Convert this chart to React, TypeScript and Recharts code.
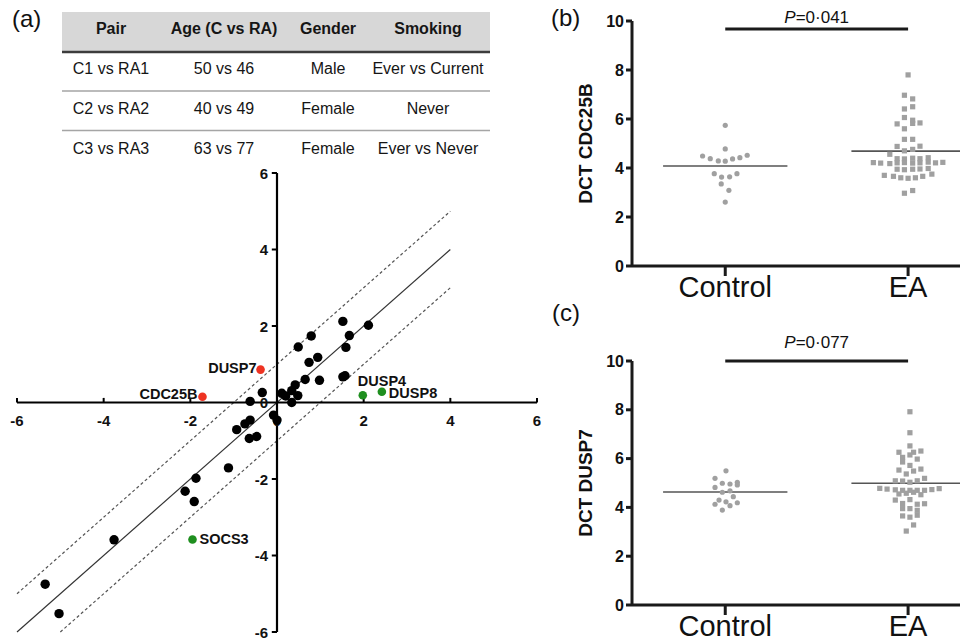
import { ScatterChart, Scatter, XAxis, YAxis, ReferenceLine, Label } from "recharts";

const FONT = '"Liberation Sans", Arial, Helvetica, sans-serif';

// (a) patient table
const tableHeader = ["Pair", "Age (C vs RA)", "Gender", "Smoking"];
const tablePairs = ["C1 vs RA1", "C2 vs RA2", "C3 vs RA3"];
const tableAges = ["50 vs 46", "40 vs 49", "63 vs 77"];
const tableGender = ["Male", "Female", "Female"];
const tableSmoking = ["Ever vs Current", "Never", "Ever vs Never"];

// (a) log fold change, pair comparison
const geneX = [-5.35, -5.03, -3.76, -2.12, -1.87, -1.91, -1.12, -0.93, -0.74, -0.62, -0.64, -0.47, -0.62, -0.34, -0.08, 0.0, 0.11, 0.2, 0.34, 0.34, 0.42, 0.48, 0.65, 0.49, 0.79, 0.74, 0.94, 0.98, 1.52, 2.11, 1.67, 1.59, 1.52, 1.57];
const geneY = [-4.75, -5.52, -3.59, -2.32, -1.98, -2.59, -1.71, -0.71, -0.56, -0.46, -0.94, -0.89, 0.03, 0.26, -0.33, -0.46, 0.24, 0.17, 0.0, 0.31, 0.46, 0.18, 0.6, 1.45, 1.74, 1.05, 1.18, 0.58, 2.12, 2.02, 1.75, 1.44, 0.67, 0.7];

const highlightGenes = ["CDC25B", "DUSP7", "DUSP4", "DUSP8", "SOCS3"];
const highlightX = [-1.72, -0.38, 1.98, 2.42, -1.95];
const highlightY = [0.15, 0.86, 0.19, 0.28, -3.58];
const highlightGroup = ["up", "up", "down", "down", "down"];

const foldTicks = [-6, -4, -2, 0, 2, 4, 6];

// (b) DCT CDC25B
const cdc25bControl = [5.74, 4.78, 4.49, 4.38, 4.29, 4.28, 4.37, 4.42, 4.52, 3.77, 3.63, 3.64, 3.77, 3.35, 3.09, 2.61];
const cdc25bControlJitter = [0, 0, -0.124, -0.082, -0.038, 0, 0.04, 0.08, 0.12, -0.06, -0.02, 0.024, 0.064, -0.022, 0.02, 0];
const cdc25bEA = [7.8, 6.97, 6.82, 6.5, 6.41, 6.06, 5.95, 5.82, 5.8, 5.84, 5.6, 5.17, 5.17, 4.88, 4.89, 4.7, 4.76, 4.56, 4.38, 4.37, 4.4, 4.38, 4.42, 4.22, 4.2, 4.18, 4.21, 4.22, 4.2, 4.21, 4.24, 4.21, 4.23, 3.95, 3.93, 3.95, 3.96, 3.98, 3.7, 3.66, 3.6, 3.58, 3.6, 3.66, 3.75, 2.97, 3.08];
const cdc25bEAJitter = [0, -0.02, 0.025, 0.025, -0.02, -0.02, 0.025, 0.025, -0.06, 0.065, -0.02, -0.02, 0.025, -0.06, 0.065, -0.02, 0.025, -0.1, -0.06, -0.02, 0.025, 0.065, 0.11, -0.19, -0.15, -0.1, -0.06, -0.02, 0.025, 0.065, 0.11, 0.15, 0.19, -0.06, -0.02, 0.025, 0.065, 0.11, -0.13, -0.08, -0.04, 0, 0.04, 0.08, 0.13, -0.02, 0.025];
const cdc25bMeans = [4.08, 4.69];

// (c) DCT DUSP7
const dusp7Control = [5.5, 5.19, 4.99, 4.96, 5.03, 4.92, 4.82, 4.62, 4.68, 4.3, 4.23, 4.44, 4.13, 4.07, 4.19, 3.89];
const dusp7ControlJitter = [0.004, -0.056, -0.016, 0.026, 0.066, 0.066, -0.056, -0.016, 0.026, -0.034, 0.004, 0.044, -0.056, 0.026, 0.066, -0.016];
const dusp7EA = [7.92, 7.06, 6.52, 6.26, 6.26, 6.31, 6.05, 6.15, 5.98, 5.86, 5.72, 5.53, 5.49, 5.57, 5.37, 5.09, 5.08, 5.03, 5.09, 5.19, 4.78, 4.75, 4.72, 4.7, 4.7, 4.7, 4.7, 4.73, 4.77, 4.55, 4.58, 4.62, 4.52, 4.3, 4.16, 4.32, 4.13, 4.15, 3.95, 3.95, 3.88, 3.65, 3.6, 3.68, 3.28, 3.03];
const dusp7EAJitter = [0.01, 0.01, 0.01, -0.05, 0.03, 0.07, -0.03, 0.01, 0.05, -0.03, 0.01, -0.05, 0.03, 0.07, -0.01, -0.07, -0.03, 0.01, 0.05, 0.09, -0.155, -0.115, -0.07, -0.03, 0.01, 0.05, 0.09, 0.13, 0.17, -0.05, -0.01, 0.03, 0.07, -0.07, -0.03, 0.01, 0.05, 0.09, -0.03, 0.01, 0.05, -0.03, 0.01, 0.05, 0.03, -0.01];
const dusp7Means = [4.63, 4.99];

const groupNames = ["Control", "EA"];
const dctTicks = [0, 2, 4, 6, 8, 10];

const labelPlacement: Record<string, { dx: number; dy: number; anchor: string }> = {
  CDC25B: { dx: -5, dy: 2, anchor: "end" },
  DUSP7: { dx: -4, dy: 3, anchor: "end" },
  DUSP4: { dx: -5, dy: -9, anchor: "start" },
  DUSP8: { dx: 7, dy: 6, anchor: "start" },
  SOCS3: { dx: 7, dy: 5, anchor: "start" },
};

function PatientTable() {
  const colCenters = [111, 224, 328, 428];
  const rows = tablePairs.map((p, i) => [p, tableAges[i], tableGender[i], tableSmoking[i]]);
  const rowBaselines = [74, 114, 153.5];
  return (
    <svg width={500} height={160} style={{ position: "absolute", left: 0, top: 0 }}>
      <rect x={62} y={12} width={428} height={40} fill="#d7d7d7" />
      <line x1={62} x2={490} y1={52} y2={52} stroke="#3c3c3c" strokeWidth={2.5} />
      <line x1={62} x2={490} y1={91} y2={91} stroke="#a5a5a5" strokeWidth={1.5} />
      <line x1={62} x2={490} y1={130.5} y2={130.5} stroke="#a5a5a5" strokeWidth={1.5} />
      {tableHeader.map((h, i) => (
        <text key={h} x={colCenters[i]} y={33.5} textAnchor="middle" fontSize={16} fontWeight="bold" fill="#151515">
          {h}
        </text>
      ))}
      {rows.map((r, ri) =>
        r.map((cell, ci) => (
          <text key={ri + "-" + ci} x={colCenters[ci]} y={rowBaselines[ri]} textAnchor="middle" fontSize={16} fill="#151515">
            {cell}
          </text>
        ))
      )}
      <text x={12} y={27} fontSize={24} fill="#111">(a)</text>
    </svg>
  );
}

function FoldChangePlot() {
  const genes = geneX.map((x, i) => ({ x, y: geneY[i] }));
  const upGenes = highlightGenes
    .map((name, i) => ({ name, x: highlightX[i], y: highlightY[i], group: highlightGroup[i] }))
    .filter((g) => g.group === "up");
  const downGenes = highlightGenes
    .map((name, i) => ({ name, x: highlightX[i], y: highlightY[i], group: highlightGroup[i] }))
    .filter((g) => g.group === "down");
  const xTickData = foldTicks.map((t) => ({ x: t, y: 0, label: String(t) }));
  const yTickData = foldTicks.map((t) => ({ x: 0, y: t, label: String(t) }));

  const geneShape = (color: string) => (p: any) => {
    const place = labelPlacement[p.payload.name];
    return (
      <g>
        <circle cx={p.cx} cy={p.cy} r={4.3} fill={color} />
        <text x={p.cx + place.dx} y={p.cy + place.dy} textAnchor={place.anchor} fontSize={14.5} fontWeight="bold" fill="#111">
          {p.payload.name}
        </text>
      </g>
    );
  };

  return (
    <ScatterChart width={560} height={482} margin={{ top: 13, right: 23, bottom: 10, left: 17 }}>
      <XAxis type="number" dataKey="x" domain={[-6, 6]} hide />
      <YAxis type="number" dataKey="y" domain={[-6, 6]} hide />
      <ReferenceLine segment={[{ x: -6, y: -5 }, { x: 4, y: 5 }]} stroke="#555" strokeWidth={1.2} strokeDasharray="3 2.5" />
      <ReferenceLine segment={[{ x: -5, y: -6 }, { x: 4, y: 3 }]} stroke="#555" strokeWidth={1.2} strokeDasharray="3 2.5" />
      <ReferenceLine segment={[{ x: -6, y: -6 }, { x: 4, y: 4 }]} stroke="#333" strokeWidth={1.2} />
      <ReferenceLine x={0} stroke="#000" strokeWidth={2.2} />
      <ReferenceLine y={0} stroke="#000" strokeWidth={2.2} />
      {foldTicks
        .filter((t) => t !== 0)
        .map((t) => (
          <ReferenceLine key={"xt" + t} segment={[{ x: t, y: 0 }, { x: t, y: 0.12 }]} stroke="#000" strokeWidth={2} />
        ))}
      {foldTicks
        .filter((t) => t !== 0)
        .map((t) => (
          <ReferenceLine key={"yt" + t} segment={[{ x: -0.12, y: t }, { x: 0, y: t }]} stroke="#000" strokeWidth={2} />
        ))}
      <Scatter
        data={xTickData}
        isAnimationActive={false}
        shape={(p: any) => (
          <text x={p.cx} y={p.cy + 23} textAnchor="middle" fontSize={15} fontWeight="bold" fill="#111">
            {p.payload.label}
          </text>
        )}
      />
      <Scatter
        data={yTickData}
        isAnimationActive={false}
        shape={(p: any) => (
          <text x={p.cx - 9} y={p.cy + 5.5} textAnchor="end" fontSize={15} fontWeight="bold" fill="#111">
            {p.payload.label}
          </text>
        )}
      />
      <Scatter
        data={genes}
        isAnimationActive={false}
        shape={(p: any) => <circle cx={p.cx} cy={p.cy} r={4.7} fill="#000" />}
      />
      <Scatter data={upGenes} isAnimationActive={false} shape={geneShape("#ee3322")} />
      <Scatter data={downGenes} isAnimationActive={false} shape={geneShape("#1f8f1f")} />
    </ScatterChart>
  );
}

interface DotPanelProps {
  ctrl: number[];
  ctrlJit: number[];
  ea: number[];
  eaJit: number[];
  means: number[];
  pBar: number;
  pValue: string;
  pGap: number;
  yLabel: string;
  height: number;
  marginTop: number;
  xAxisHeight: number;
}

function DotPanel({ ctrl, ctrlJit, ea, eaJit, means, pBar, pValue, pGap, yLabel, height, marginTop, xAxisHeight }: DotPanelProps) {
  const ctrlData = ctrl.map((v, i) => ({ x: ctrlJit[i], y: v }));
  const eaData = ea.map((v, i) => ({ x: 1 + eaJit[i], y: v }));
  const axisStroke = { stroke: "#1a1a1a", strokeWidth: 3 };

  return (
    <ScatterChart width={465} height={height} margin={{ top: marginTop, right: 0, bottom: 4, left: 0 }}>
      <XAxis
        type="number"
        dataKey="x"
        domain={[-0.51, 1.53]}
        ticks={[0, 1]}
        tickFormatter={(v: number) => groupNames[v]}
        tick={{ fontSize: 29, fill: "#111" }}
        tickSize={10}
        tickMargin={0}
        height={xAxisHeight}
        axisLine={axisStroke}
        tickLine={axisStroke}
      />
      <YAxis
        type="number"
        dataKey="y"
        domain={[0, 10]}
        ticks={dctTicks}
        width={92}
        tick={{ fontSize: 16, fontWeight: "bold", fill: "#111" }}
        tickSize={6}
        tickMargin={2}
        axisLine={axisStroke}
        tickLine={axisStroke}
      >
        <Label
          content={(props: any) => {
            const vb = props.viewBox || { x: 0, y: marginTop, width: 92, height: 245 };
            const cx = vb.x + 45;
            const cy = vb.y + vb.height / 2;
            return (
              <text
                x={cx}
                y={cy}
                transform={`rotate(-90 ${cx} ${cy})`}
                textAnchor="middle"
                dominantBaseline="central"
                fontSize={19}
                fontWeight="bold"
                fill="#111"
              >
                {yLabel}
              </text>
            );
          }}
        />
      </YAxis>
      <ReferenceLine segment={[{ x: -0.34, y: means[0] }, { x: 0.34, y: means[0] }]} stroke="#555" strokeWidth={1.6} />
      <ReferenceLine segment={[{ x: 0.69, y: means[1] }, { x: 1.31, y: means[1] }]} stroke="#555" strokeWidth={1.6} />
      <ReferenceLine segment={[{ x: 0, y: pBar }, { x: 1, y: pBar }]} stroke="#1a1a1a" strokeWidth={3} />
      <Scatter
        data={[{ x: 0.5, y: pBar }]}
        isAnimationActive={false}
        shape={(p: any) => (
          <text x={p.cx} y={p.cy - pGap} textAnchor="middle" fontSize={17} fill="#111">
            <tspan fontStyle="italic">P</tspan>={pValue}
          </text>
        )}
      />
      <Scatter
        data={ctrlData}
        isAnimationActive={false}
        shape={(p: any) => <circle cx={p.cx} cy={p.cy} r={2.6} fill="#a0a0a0" />}
      />
      <Scatter
        data={eaData}
        isAnimationActive={false}
        shape={(p: any) => <rect x={p.cx - 2.6} y={p.cy - 2.6} width={5.2} height={5.2} fill="#a0a0a0" />}
      />
    </ScatterChart>
  );
}

export default function App() {
  return (
    <div
      style={{
        position: "fixed",
        left: 0,
        top: 0,
        width: 960,
        height: 642,
        overflow: "hidden",
        background: "#fff",
        fontFamily: FONT,
      }}
    >
      <PatientTable />
      <div style={{ position: "absolute", left: 0, top: 160 }}>
        <FoldChangePlot />
      </div>
      <div style={{ position: "absolute", left: 540, top: 0 }}>
        <DotPanel
          ctrl={cdc25bControl}
          ctrlJit={cdc25bControlJitter}
          ea={cdc25bEA}
          eaJit={cdc25bEAJitter}
          means={cdc25bMeans}
          pBar={9.67}
          pValue="0·041"
          pGap={6.5}
          yLabel="DCT CDC25B"
          height={310}
          marginTop={21}
          xAxisHeight={40}
        />
      </div>
      <div style={{ position: "absolute", left: 540, top: 300 }}>
        <DotPanel
          ctrl={dusp7Control}
          ctrlJit={dusp7ControlJitter}
          ea={dusp7EA}
          eaJit={dusp7EAJitter}
          means={dusp7Means}
          pBar={10}
          pValue="0·077"
          pGap={13.5}
          yLabel="DCT DUSP7"
          height={342}
          marginTop={61}
          xAxisHeight={33}
        />
      </div>
      <svg width={60} height={340} style={{ position: "absolute", left: 540, top: 0 }}>
        <text x={11} y={26} fontSize={24} fill="#111">(b)</text>
        <text x={12} y={321} fontSize={24} fill="#111">(c)</text>
      </svg>
    </div>
  );
}
